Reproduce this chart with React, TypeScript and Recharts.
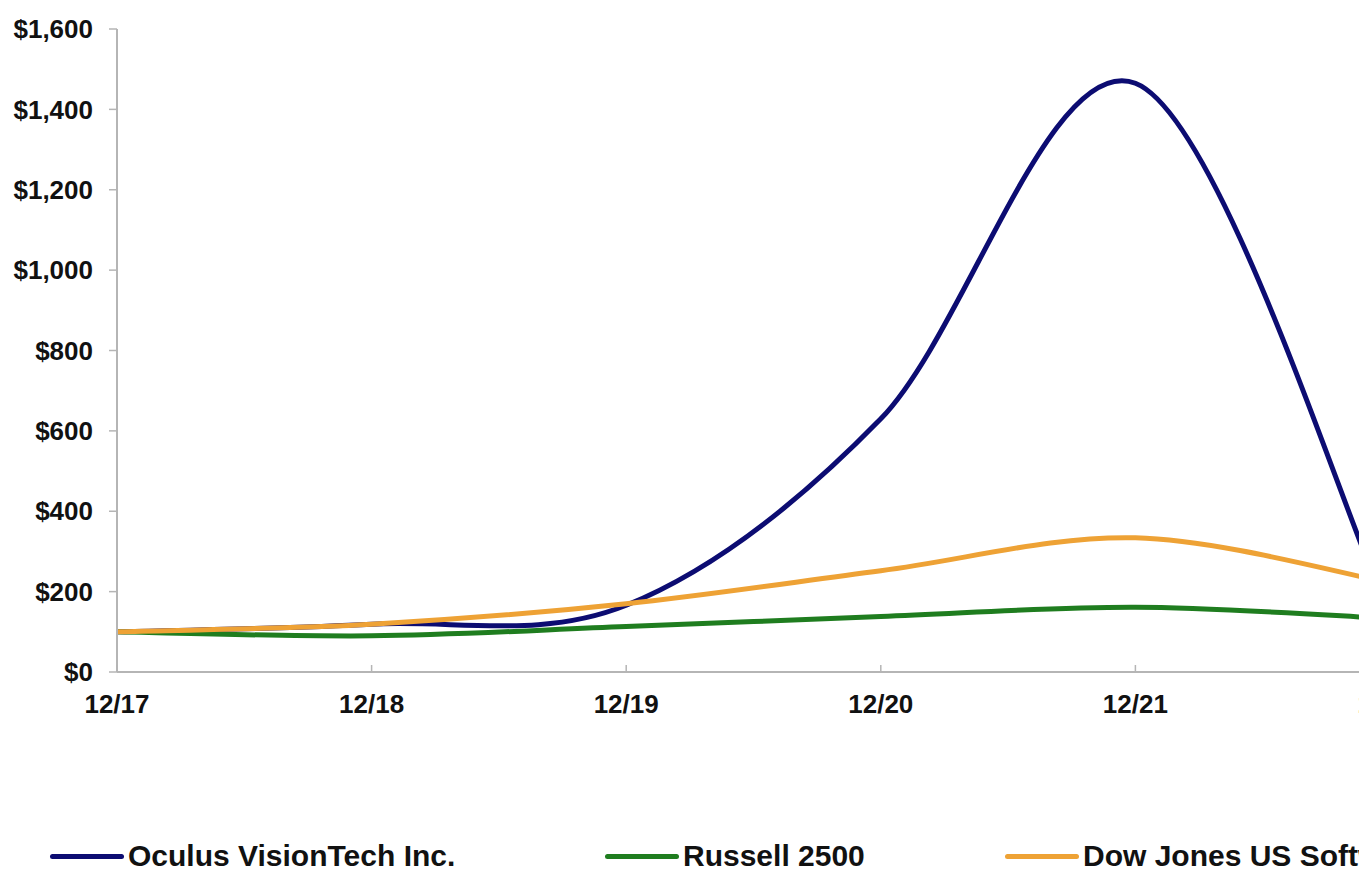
import React from 'react';
import { LineChart, Line, XAxis, YAxis } from 'recharts';

const periods = ['12/17', '12/18', '12/19', '12/20', '12/21', '12/22'];
const oculus = [100, 119, 166, 630, 1465, 140];
const russell = [100, 90, 113, 138, 161, 133];
const dowJones = [100, 119, 170, 252, 334, 222];
const yTicks = [0, 200, 400, 600, 800, 1000, 1200, 1400, 1600];

const series = [
  { key: 'oculus', name: 'Oculus VisionTech Inc.', color: '#0c0c72', left: 50 },
  { key: 'russell', name: 'Russell 2500', color: '#1f7d1f', left: 605 },
  { key: 'dowJones', name: 'Dow Jones US Software', color: '#eea235', left: 1005 },
];

const data = periods.map((p, i) => ({
  period: p,
  oculus: oculus[i],
  russell: russell[i],
  dowJones: dowJones[i],
}));

const FONT = '"Liberation Sans", Arial, sans-serif';

const money = (v: number) => '$' + v.toLocaleString('en-US');

// spreadsheet-style smoothing (uniform Catmull-Rom through every point)
const smoothCurve: any = (context: any) => {
  let pts: [number, number][] = [];
  return {
    areaStart() {},
    areaEnd() {},
    lineStart() {
      pts = [];
    },
    point(x: number, y: number) {
      pts.push([+x, +y]);
    },
    lineEnd() {
      if (!pts.length) return;
      context.moveTo(pts[0][0], pts[0][1]);
      for (let i = 0; i < pts.length - 1; i++) {
        const p0 = pts[i - 1] || pts[i];
        const p1 = pts[i];
        const p2 = pts[i + 1];
        const p3 = pts[i + 2] || p2;
        context.bezierCurveTo(
          p1[0] + (p2[0] - p0[0]) / 6,
          p1[1] + (p2[1] - p0[1]) / 6,
          p2[0] - (p3[0] - p1[0]) / 6,
          p2[1] - (p3[1] - p1[1]) / 6,
          p2[0],
          p2[1],
        );
      }
    },
  };
};

const XTick = (props: any) => {
  const { x, y, payload } = props;
  return (
    <g>
      <line x1={x} y1={y} x2={x} y2={y - 7} stroke="#b5b5b5" strokeWidth={1.5} />
      <text x={x} y={y + 41} textAnchor="middle" fill="#111" fontSize={26} fontWeight="bold" fontFamily={FONT}>
        {payload.value}
      </text>
    </g>
  );
};

export default function App() {
  return (
    <div style={{ position: 'absolute', left: 0, top: 0, width: 1359, height: 873, overflow: 'hidden', background: '#fff' }}>
      <LineChart
        width={1430}
        height={873}
        data={data}
        margin={{ top: 29, right: 40, bottom: 141, left: 0 }}
      >
        <XAxis
          dataKey="period"
          tick={<XTick />}
          tickLine={false}
          tickSize={0}
          tickMargin={0}
          axisLine={{ stroke: '#b5b5b5', strokeWidth: 2 }}
          height={60}
          interval={0}
        />
        <YAxis
          width={117}
          domain={[0, 1600]}
          ticks={yTicks}
          tickFormatter={money}
          tickSize={8}
          tickMargin={16}
          tickLine={{ stroke: '#b5b5b5', strokeWidth: 1.5 }}
          axisLine={{ stroke: '#b5b5b5', strokeWidth: 2 }}
          tick={{ fill: '#111', fontSize: 26, fontWeight: 'bold', fontFamily: FONT }}
        />
        {series.map((s) => (
          <Line
            key={s.key}
            dataKey={s.key}
            name={s.name}
            type={smoothCurve}
            stroke={s.color}
            strokeWidth={5}
            dot={false}
            isAnimationActive={false}
          />
        ))}
      </LineChart>
      {series.map((s) => (
        <div
          key={s.key}
          style={{ position: 'absolute', left: s.left, top: 839, display: 'flex', alignItems: 'center', fontFamily: FONT }}
        >
          <div style={{ width: 74, height: 5, borderRadius: 3, background: s.color, marginRight: 4 }} />
          <span style={{ fontSize: 30, fontWeight: 'bold', color: '#111', whiteSpace: 'nowrap' }}>{s.name}</span>
        </div>
      ))}
    </div>
  );
}
